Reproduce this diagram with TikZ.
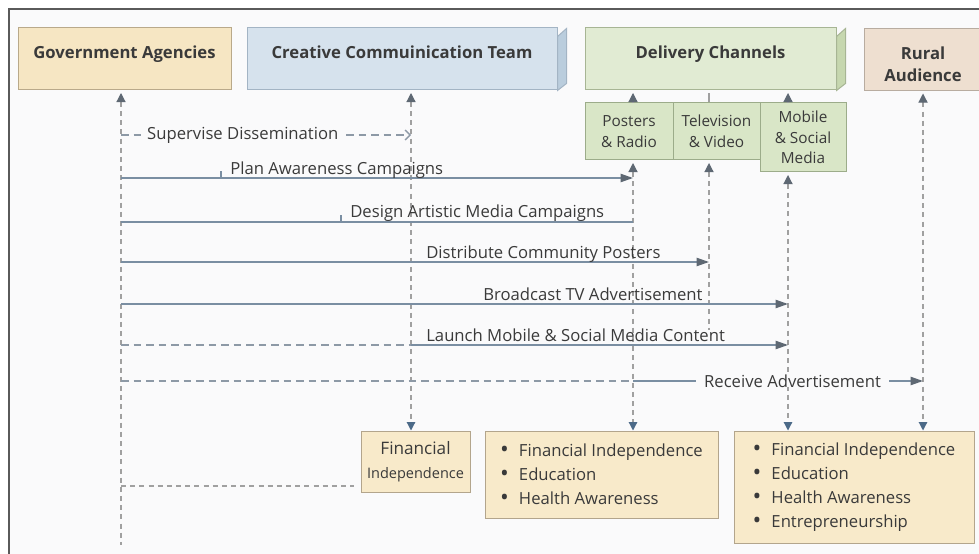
\documentclass[tikz,border=0pt]{standalone}
\usepackage{fontspec}
\setmainfont{Open Sans}
\usetikzlibrary{arrows.meta}
\definecolor{inkcol}{HTML}{3A3A3A}
\definecolor{framecol}{HTML}{5A5A5A}
\definecolor{bgcol}{HTML}{FAFAFB}
\definecolor{govfill}{HTML}{F6E6C3}
\definecolor{govline}{HTML}{B9A98A}
\definecolor{crefill}{HTML}{D6E2ED}
\definecolor{creside}{HTML}{BACDDD}
\definecolor{creline}{HTML}{A3B4C4}
\definecolor{delfill}{HTML}{E1EBD3}
\definecolor{delside}{HTML}{C6D7AF}
\definecolor{delline}{HTML}{A7B594}
\definecolor{subfill}{HTML}{D9E6C7}
\definecolor{subline}{HTML}{9CAC8A}
\definecolor{rurfill}{HTML}{EEDFD0}
\definecolor{rurline}{HTML}{B8ACA0}
\definecolor{botfill}{HTML}{F8EACA}
\definecolor{botline}{HTML}{B3A58C}
\definecolor{msgcol}{HTML}{7A8EA2}
\definecolor{dashcol}{HTML}{8D99A6}
\definecolor{lifecol}{HTML}{A0A0A0}
\definecolor{tipupcol}{HTML}{5E6873}
\definecolor{tipdncol}{HTML}{4C6A88}
\tikzset{
      uptip/.tip={Triangle[length=5.5pt,width=5.5pt,color=tipupcol]},
      dntip/.tip={Triangle[length=5pt,width=5pt,color=tipdncol]},
      msgtip/.tip={Triangle[length=7.5pt,width=5pt,color=tipupcol]},
      hdr/.style={line width=0.6pt, inner xsep=2pt, inner ysep=0pt, minimum height=37.2pt,
            text height=18.6pt, text depth=18.6pt, font=\fontsize{10}{12}\selectfont\bfseries, text=inkcol},
      sub/.style={draw=subline, fill=subfill, line width=0.6pt, inner sep=1pt, align=center,
            font=\fontsize{9.2}{12.4}\selectfont, text=inkcol},
      bot/.style={draw=botline, fill=botfill, line width=0.6pt, inner sep=1pt,
            font=\fontsize{10}{14.4}\selectfont, text=inkcol},
      life/.style={draw=lifecol, line width=0.7pt, dash pattern=on 3pt off 2.5pt},
      stub/.style={draw=lifecol, line width=0.7pt},
      msg/.style={draw=msgcol, line width=0.9pt},
      msgdash/.style={draw=dashcol, line width=0.8pt, dash pattern=on 4.5pt off 3pt},
      lbl/.style={font=\fontsize{10}{12}\selectfont, text=inkcol, inner sep=0pt},
}
\newcommand\itm{\raisebox{-0.9pt}{\fontsize{14}{14}\selectfont\textbullet}\hspace{6pt}}

\begin{document}
\begin{tikzpicture}[x=0.6pt,y=-0.6pt]

        \useasboundingbox (0,0) rectangle (979,554);
        \fill[white] (0,0) rectangle (979,554);
        \fill[bgcol] (9,9) rectangle (979,554);
        \draw[framecol, line width=1.2pt] (9,554) -- (9,9) -- (979,9);

        % participants
        \node[hdr, draw=govline, fill=govfill, minimum width=127.8pt] (gov) at (124.5,59) {Government Agencies};
        \node[hdr, draw=creline, fill=crefill, minimum width=186pt] (cre) at (402,59) {Creative Commuinication Team};
        \filldraw[fill=creside, draw=creline, line width=0.6pt] (cre.north east) ++(0,9) -- ++(9,-8) -- ++(0,55) -- ++(-9,7) -- cycle;
        \node[hdr, draw=delline, fill=delfill, minimum width=150.6pt] (del) at (710.5,59) {Delivery Channels};
        \filldraw[fill=delside, draw=delline, line width=0.6pt] (del.north east) ++(0,9) -- ++(9,-8) -- ++(0,55) -- ++(-9,7) -- cycle;
        \node[draw=rurline, fill=rurfill, line width=0.6pt, minimum width=70.8pt, minimum height=37.2pt, align=center,
              font=\fontsize{10}{13.2}\selectfont\bfseries, text=inkcol] (rur) at (923,59.5) {\rule{0pt}{13.6pt}Rural\\Audience};

        \node[sub, minimum width=52.8pt, minimum height=34.2pt] (pos) at (629,131.5) {Posters\\\& Radio};
        \node[sub, minimum width=52.2pt, minimum height=34.2pt] (tv) at (716.5,131.5) {Television\\\& Video};
        \node[sub, minimum width=51.6pt, minimum height=41.4pt] (mob) at (803,137.5) {Mobile\\\& Social\\Media};

        \node[bot, minimum width=65.4pt, minimum height=36.6pt, align=center] (fin) at (415.5,461.5)
              {{\fontsize{10.3}{14.4}\selectfont Financial}\\{\fontsize{8.7}{14.4}\selectfont Independence}};
        \node[bot, minimum width=139.8pt, minimum height=52.2pt, align=left] (mid) at (601.5,474.5)
              {\itm Financial Independence\\\itm Education\\\itm Health Awareness};
        \node[bot, minimum width=144pt, minimum height=67.2pt, align=left] (rbx) at (854,487)
              {\itm Financial Independence\\\itm Education\\\itm Health Awareness\\\itm Entrepreneurship};

        % lifelines
        \coordinate (lgov) at (121,0);
        \coordinate (lcre) at (411,0);
        \coordinate (lpos) at (633,0);
        \coordinate (ltv) at (709,0);
        \coordinate (lmob) at (788,0);
        \coordinate (lrur) at (923,0);
        \coordinate (gend) at (121,545);
        \coordinate (tvend) at (709,330);

        \draw[life, uptip-, shorten <=1.5pt] (lgov |- gov.south) -- (gend);
        \draw[life, uptip-dntip, shorten <=1.5pt] (lcre |- cre.south) -- (lcre |- fin.north);
        \draw[life, uptip-dntip, shorten <=1.5pt] (lpos |- pos.south) -- (lpos |- mid.north);
        \draw[life, uptip-, shorten <=1.5pt] (ltv |- tv.south) -- (tvend);
        \draw[life, uptip-dntip, shorten <=1.5pt] (lmob |- mob.south) -- (lmob |- rbx.north);
        \draw[life, uptip-dntip, shorten <=1.5pt] (lrur |- rur.south) -- (lrur |- rbx.north);

        \draw[stub, -uptip, shorten >=1.5pt] (lpos |- pos.north) -- (lpos |- del.south);
        \draw[stub, shorten >=1.5pt] (ltv |- tv.north) -- (ltv |- del.south);
        \draw[stub, -uptip, shorten >=1.5pt] (lmob |- mob.north) -- (lmob |- del.south);

        % messages
        \coordinate (r1) at (0,135);
        \coordinate (r2) at (0,178);
        \coordinate (r3) at (0,222);
        \coordinate (r4) at (0,262);
        \coordinate (r5) at (0,304);
        \coordinate (r6) at (0,345);
        \coordinate (r7) at (0,381);
        \coordinate (r8) at (0,486);
        \coordinate (k1) at (221,178);
        \coordinate (k2) at (341,222);

        \draw[msgdash, -{Straight Barb[length=3pt,width=6pt,color=dashcol]}] (lgov |- r1) --
              node[pos=0.42, lbl, fill=bgcol, inner xsep=4pt] (tsup) {Supervise Dissemination} (lcre |- r1);

        \draw[msg, -msgtip] (lgov |- r2) -- (lpos |- r2);
        \draw[msg] (k1) -- ++(0,-7);
        \node[lbl, anchor=base west] (tplan) at (230,175) {Plan Awareness Campaigns};

        \draw[msg] (lgov |- r3) -- (lpos |- r3);
        \draw[msg] (k2) -- ++(0,-7);
        \node[lbl, anchor=base west] (tdes) at (350,218) {Design Artistic Media Campaigns};

        \draw[msg, -msgtip] (lgov |- r4) -- (ltv |- r4);
        \node[lbl, anchor=base west] (tdis) at (426,258.5) {Distribute Community Posters};

        \draw[msg, -msgtip] (lgov |- r5) -- (lmob |- r5);
        \node[lbl, anchor=base west] (tbro) at (483,300) {Broadcast TV Advertisement};

        \draw[msgdash] (lgov |- r6) -- (lcre |- r6);
        \draw[msg, -msgtip] (lcre |- r6) -- (lmob |- r6);
        \node[lbl, anchor=base west] (tlau) at (426,341.5) {Launch Mobile \& Social Media Content};

        \draw[msgdash] (lgov |- r7) -- (lpos |- r7);
        \draw[msg, -msgtip] (lpos |- r7) --
              node[pos=0.55, lbl, fill=bgcol, inner xsep=5pt] (trec) {Receive Advertisement} (lrur |- r7);

        \draw[life, shorten >=4pt] (lgov |- r8) -- (fin.west |- r8);

    \end{tikzpicture}
\end{document}
